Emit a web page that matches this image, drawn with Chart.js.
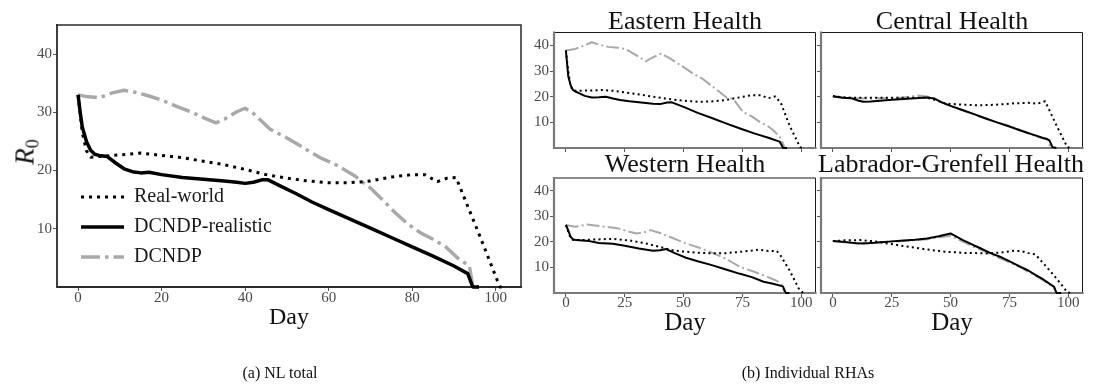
<!DOCTYPE html>
<html><head><meta charset="utf-8">
<script src="https://cdn.jsdelivr.net/npm/chart.js@4/dist/chart.umd.min.js"></script>
<style>
html,body{margin:0;padding:0;background:#fff;}
#wrap{position:relative;width:1093px;height:392px;overflow:hidden;background:#fff;}
canvas{position:absolute;left:0;top:0;}
.t{position:absolute;font-family:"Liberation Serif","Times New Roman",serif;color:#111;line-height:1;white-space:nowrap;transform:translate(-50%,-50%);}
</style></head><body><div id="wrap">
<canvas id="cNL" width="1093" height="392"></canvas>
<canvas id="cE" width="1093" height="392"></canvas>
<canvas id="cC" width="1093" height="392"></canvas>
<canvas id="cW" width="1093" height="392"></canvas>
<canvas id="cL" width="1093" height="392"></canvas>
<div class="t" style="left:685px;top:21px;font-size:26px">Eastern Health</div>
<div class="t" style="left:952px;top:21px;font-size:26px">Central Health</div>
<div class="t" style="left:685px;top:164px;font-size:26px">Western Health</div>
<div class="t" style="left:951px;top:164px;font-size:26px">Labrador-Grenfell Health</div>
<div class="t" style="left:289px;top:316px;font-size:24px">Day</div>
<div class="t" style="left:685px;top:321px;font-size:25px">Day</div>
<div class="t" style="left:952px;top:321px;font-size:25px">Day</div>
<div class="t" style="left:25px;top:152px;font-size:27px;transform:translate(-50%,-50%) rotate(-90deg)"><i>R</i><span style="font-size:18px;position:relative;top:0.3em">0</span></div>
<div class="t" style="left:280px;top:373px;font-size:16px">(a) NL total</div>
<div class="t" style="left:808px;top:373px;font-size:16px">(b) Individual RHAs</div>
</div>
<script>
// ---------- Data ----------
const seriesLabels = ['Real-world', 'DCNDP-realistic', 'DCNDP'];
const xTicksNL = [0, 20, 40, 60, 80, 100];
const xTicksRHA = [0, 25, 50, 75, 100];
const yTicks = [10, 20, 30, 40];

// NL total
const nlRealDays = [0,1,2,3,5,8,12,15,20,25,30,35,40,45,50,55,60,65,70,75,80,83,86,88.4,90.5,96,100,101,102];
const nlRealVals = [33,26.5,23.4,22.3,22.4,22.6,22.8,23.0,22.6,22.2,21.6,21.0,20.2,19.3,18.7,18.2,17.9,17.9,18.2,18.9,19.3,19.3,18.1,18.7,18.8,9.1,1.8,0,0];
const nlRealisticDays = [0,0.5,1,2,3,4,5,7,9,11,13,15,17,20,25,30,35,38,40,42,44,45.5,48,52,56,60,65,70,75,80,85,90,93.3,94.5,96];
const nlRealisticVals = [33,30,27.5,25,23.5,22.8,22.6,22.4,21.3,20.3,19.8,19.6,19.7,19.3,18.8,18.5,18.2,18.0,17.8,18.0,18.4,18.4,17.5,16.1,14.6,13.3,11.7,10.1,8.5,6.9,5.3,3.6,2.3,0,0];
const nlDcndpDays = [0,2,5,8,11,14,17,20,24,27,30,33,35,38,40,42,46,50,54,58,62,66,70,73,76,79,82,85,88,91,93.7,94.5,96];
const nlDcndpVals = [33,32.7,32.5,33.3,33.8,33.4,32.8,32.1,30.9,30.1,29.1,28.2,28.8,30.1,30.7,29.8,27.1,25.6,23.9,22.2,20.9,19.2,17.0,14.9,12.7,10.8,9.3,8.2,6.9,4.9,3.6,0,0];

// Eastern Health
const eRealDays = [0,1,2,3,5,10,15,20,28,35,42,50,57,63,68,73,79,83,86,89,91.4,95,99.5,101];
const eRealVals = [38,30,24,22.4,22.3,22.4,22.6,22.3,21.3,20.3,19.3,18.4,18.0,18.2,18.7,19.6,20.6,20.5,19.4,20.1,17.4,8.8,0.3,0];
const eRealisticDays = [0,0.5,1,2,3,4,6,8,11,14,17,20,23,27,32,37,40,43,45,50,56,62,68,74,80,86,90.8,92.3,94];
const eRealisticVals = [38,33,28,24.5,22.6,22,21.2,20.3,19.7,19.8,20,19.3,18.7,18.2,17.7,17.2,17.1,17.7,17.8,16,13.7,11.7,9.6,7.6,5.7,4,2.5,0,0];
const eDcndpDays = [0,4,8,11,14,18,22,25.5,29.8,34,37,40.5,44,50,54,58,62,66,68.5,71,73,75.2,79,82.3,86,88,90.8,91.5,93,94];
const eDcndpVals = [38,38.6,40,41.2,40.3,39.4,39.1,38.5,36.2,33.8,35.3,36.8,35,31.5,29,27,24.2,21.3,19.5,19.2,16.8,14.1,12.3,10.2,8.4,7,4.4,3.1,0,0];

// Central Health
const cRealDays = [0,4,8,15,25,35,40,44,48,55,62,70,77,83,87,90.2,95,99.6,101];
const cRealVals = [20.2,19.8,19.6,19.6,19.6,19.6,19.6,18.6,17.3,16.9,16.6,16.9,17.4,17.6,17.3,18.2,8.8,0.3,0];
const cRealisticDays = [0,4,8,11,13,16,20,25,30,35,40,43,46,50,55,60,65,70,75,80,85,89,91,92,93.3,95];
const cRealisticVals = [20.2,19.6,19.4,18.4,18,18.1,18.4,18.8,19.1,19.4,19.7,19.3,17.9,16.4,14.8,13.2,11.5,9.9,8.4,6.7,5.2,4,3.5,3,0.3,0];
const cDcndpDays = [0,5,10,15,20,25,30,36,40,43,46,50,55,60,65,70,75,80,85,89,91.5,92.3,95];
const cDcndpVals = [20.2,19.6,19.4,19.3,19.4,19.5,19.7,20.5,20.1,19.3,17.9,16.3,14.7,13,11.4,9.9,8.6,6.9,5,3.8,3.2,0.3,0];

// Western Health
const wRealDays = [0,1,2,3,6,12,17,20,28,34,40,45,50,56,62,68,74,79,82,86,89.5,91,95,99.3,101];
const wRealVals = [26.6,24,21.5,20.8,20.7,20.9,21.1,21.2,20.4,19.4,18,16.8,16.2,15.8,15.5,15.6,16.1,16.6,17,16.4,16.5,15,8.9,1.1,0];
const wRealisticDays = [0,1,2,3,4.3,7,10,14,20,25,31,37,40,42.6,46,51,56,62,68,74,79,84,88,92.2,93.4,95];
const wRealisticVals = [26.6,24.5,22,21,20.7,20.5,20.3,19.6,19.3,18.5,17.4,16.5,16.7,17.2,15.7,13.8,12.4,10.9,9.2,7.5,6.2,4.4,3.6,2.6,0,0];
const wDcndpDays = [0,4,9,15,22,26,30,33,36,40,44,51,57,62,68,74,80,85,89,91.5,93,95];
const wDcndpVals = [26.6,25.9,26.8,26.1,25.3,24.2,23.3,23.7,24.6,23.5,22,19.4,17.6,15.8,13.4,10.2,8.3,6.6,5,3.7,0,0];

// Labrador-Grenfell Health
const lRealDays = [0,5,11.8,18,24.4,30,34.3,40,48.5,56,65.5,72,76.9,80,83,86,90,93.8,97,99.5,101];
const lRealVals = [20.3,20.6,20.7,20.2,19.2,18.4,17.8,17.0,16.1,15.7,15.5,15.9,16.5,16.4,15.6,15.1,11,7,3.4,0.4,0];
const lRealisticDays = [0,5,10,13,18,25,30,35,40,45,50,55,60,63,67,71,74,77,80,83,86,89,94,95,97];
const lRealisticVals = [20.3,20.0,19.5,19.4,19.7,20.2,20.5,20.8,21.3,22.2,23.3,20.8,18.6,17.4,15.6,14.2,12.9,11.5,10.1,8.8,7.1,5.5,2.4,0,0];
const lDcndpDays = [0,5,10,20,30,40,50,55,60,65,70,75,80,85,90,94,94.8,97];
const lDcndpVals = [20.3,19.9,19.5,19.9,20.3,21,22.4,20.2,18,16,14,12,9.8,7.4,4.6,2,0,0];

// ---------- Rendering ----------
const FONT = '"Liberation Serif","Times New Roman",serif';
const W = 1093, H = 392, YW = 40, XH = 40;

function pts(d, v) { return d.map((x, i) => ({ x: x, y: v[i] })); }

const framePlugin = {
  id: 'frame',
  beforeDatasetsDraw(chart, args, o) {
    const a = chart.chartArea, ctx = chart.ctx;
    ctx.save();
    ctx.lineCap = 'square';
    ctx.strokeStyle = o.trColor; ctx.lineWidth = o.trWidth;
    ctx.beginPath(); ctx.moveTo(a.left, a.top); ctx.lineTo(a.right, a.top); ctx.lineTo(a.right, a.bottom); ctx.stroke();
    ctx.strokeStyle = o.lbColor; ctx.lineWidth = o.lbWidth;
    ctx.beginPath(); ctx.moveTo(a.left, a.top); ctx.lineTo(a.left, a.bottom); ctx.lineTo(a.right, a.bottom); ctx.stroke();
    ctx.restore();
  }
};

const legendMover = {
  id: 'legendMover',
  afterLayout(chart, args, o) {
    const lg = chart.legend;
    if (!lg || !o.enabled) return;
    lg.left = o.left; lg.top = o.top; lg.width = 320; lg.height = 110;
    lg.right = lg.left + lg.width; lg.bottom = lg.top + lg.height;
  }
};

// legend dash: line occupies leftmost `len` px of a box of `len+gap`, drawn right-to-left
function legendDash(pattern, len, gap) {
  const arr = [0, gap];
  if (!pattern.length) { arr.push(len, 1000); return arr; }
  let acc = 0;
  while (acc < len) {
    for (let i = 0; i < pattern.length && acc < len; i++) {
      const v = Math.min(pattern[i], len - acc); arr.push(v); acc += v;
    }
  }
  if (arr.length % 2) arr.push(1000); else arr.push(0, 1000);
  return arr;
}

function makePanel(id, area, series, cfg) {
  const datasets = series.map(s => ({
    label: s.label, data: pts(s.days, s.vals),
    borderColor: s.color, borderWidth: s.width, borderDash: s.dash,
    borderCapStyle: 'butt', borderJoinStyle: 'round',
    pointRadius: 0, tension: 0, fill: false, clip: false
  }));
  const tickFont = { family: FONT, size: 15 };
  const gridCfg = { display: true, drawOnChartArea: false, drawTicks: true, tickLength: 4, color: '#555', lineWidth: 1 };
  return new Chart(document.getElementById(id), {
    type: 'line',
    data: { datasets },
    options: {
      responsive: false, animation: false, devicePixelRatio: 1,
      layout: { padding: { left: area.L - YW, top: area.T, right: W - area.R, bottom: H - area.B - XH } },
      scales: {
        x: {
          type: 'linear', min: -5.05, max: 106.05,
          afterBuildTicks: s => { s.ticks = cfg.xTicks.map(v => ({ value: v })); },
          afterFit: s => { s.height = XH; },
          grid: gridCfg, border: { display: false },
          ticks: { font: tickFont, color: '#4a4a4a', padding: cfg.xPad, maxRotation: 0, autoSkip: false,
                   callback: v => cfg.xLabels ? String(v) : '' }
        },
        y: {
          type: 'linear', min: 0, max: 45,
          afterBuildTicks: s => { s.ticks = yTicks.map(v => ({ value: v })); },
          afterFit: s => { s.width = YW; },
          grid: gridCfg, border: { display: false },
          ticks: { font: tickFont, color: '#4a4a4a', padding: 1, autoSkip: false,
                   callback: v => cfg.yLabels ? String(v) : '' }
        }
      },
      plugins: {
        tooltip: { enabled: false },
        frame: cfg.frame,
        legendMover: { enabled: !!cfg.legend, left: 65, top: 177 },
        legend: cfg.legend ? {
          display: true, position: 'chartArea', align: 'start',
          labels: {
            usePointStyle: true, pointStyle: 'line', pointStyleWidth: 49,
            padding: 10, color: '#1a1a1a', font: { family: FONT, size: 20 },
            generateLabels: chart => {
              const items = Chart.defaults.plugins.legend.labels.generateLabels(chart);
              items.forEach((it, i) => {
                it.lineDash = legendDash(series[i].dash, 43, 6);
                it.pointStyle = 'line';
              });
              return items;
            }
          }
        } : { display: false }
      }
    },
    plugins: [framePlugin, legendMover]
  });
}

function seriesSet(rd, rv, sd, sv, dd, dv, big) {
  const lw = big ? 3 : 2;
  return [
    { label: seriesLabels[0], days: rd, vals: rv, color: '#000000', width: lw, dash: big ? [3, 5] : [2, 3.3] },
    { label: seriesLabels[1], days: sd, vals: sv, color: '#000000', width: big ? 3.5 : 2, dash: [] },
    { label: seriesLabels[2], days: dd, vals: dv, color: '#a9a9a9', width: big ? 3.5 : 2,
      dash: big ? [19, 5, 3.5, 5] : [12.8, 3.2, 2, 3.2] }
  ];
}

const bigFrame = { trColor: '#2a2a2a', trWidth: 1.5, lbColor: '#2a2a2a', lbWidth: 1.8 };
const smallFrame = { trColor: '#1a1a1a', trWidth: 1, lbColor: '#7a7a7a', lbWidth: 2.2 };

makePanel('cNL', { L: 57, T: 25, R: 521, B: 287 },
  seriesSet(nlRealDays, nlRealVals, nlRealisticDays, nlRealisticVals, nlDcndpDays, nlDcndpVals, true),
  { xTicks: xTicksNL, xLabels: true, yLabels: true, frame: bigFrame, legend: true, xPad: -2 });

makePanel('cE', { L: 554, T: 32.5, R: 815.5, B: 148 },
  seriesSet(eRealDays, eRealVals, eRealisticDays, eRealisticVals, eDcndpDays, eDcndpVals, false),
  { xTicks: xTicksRHA, xLabels: false, yLabels: true, frame: smallFrame, xPad: -3 });

makePanel('cC', { L: 821, T: 32.5, R: 1082.5, B: 148 },
  seriesSet(cRealDays, cRealVals, cRealisticDays, cRealisticVals, cDcndpDays, cDcndpVals, false),
  { xTicks: xTicksRHA, xLabels: false, yLabels: false, frame: smallFrame, xPad: -3 });

makePanel('cW', { L: 554, T: 178, R: 815.5, B: 293 },
  seriesSet(wRealDays, wRealVals, wRealisticDays, wRealisticVals, wDcndpDays, wDcndpVals, false),
  { xTicks: xTicksRHA, xLabels: true, yLabels: true, frame: smallFrame, xPad: -3 });

makePanel('cL', { L: 821, T: 178, R: 1082.5, B: 293 },
  seriesSet(lRealDays, lRealVals, lRealisticDays, lRealisticVals, lDcndpDays, lDcndpVals, false),
  { xTicks: xTicksRHA, xLabels: true, yLabels: false, frame: smallFrame, xPad: -3 });
</script></body></html>
